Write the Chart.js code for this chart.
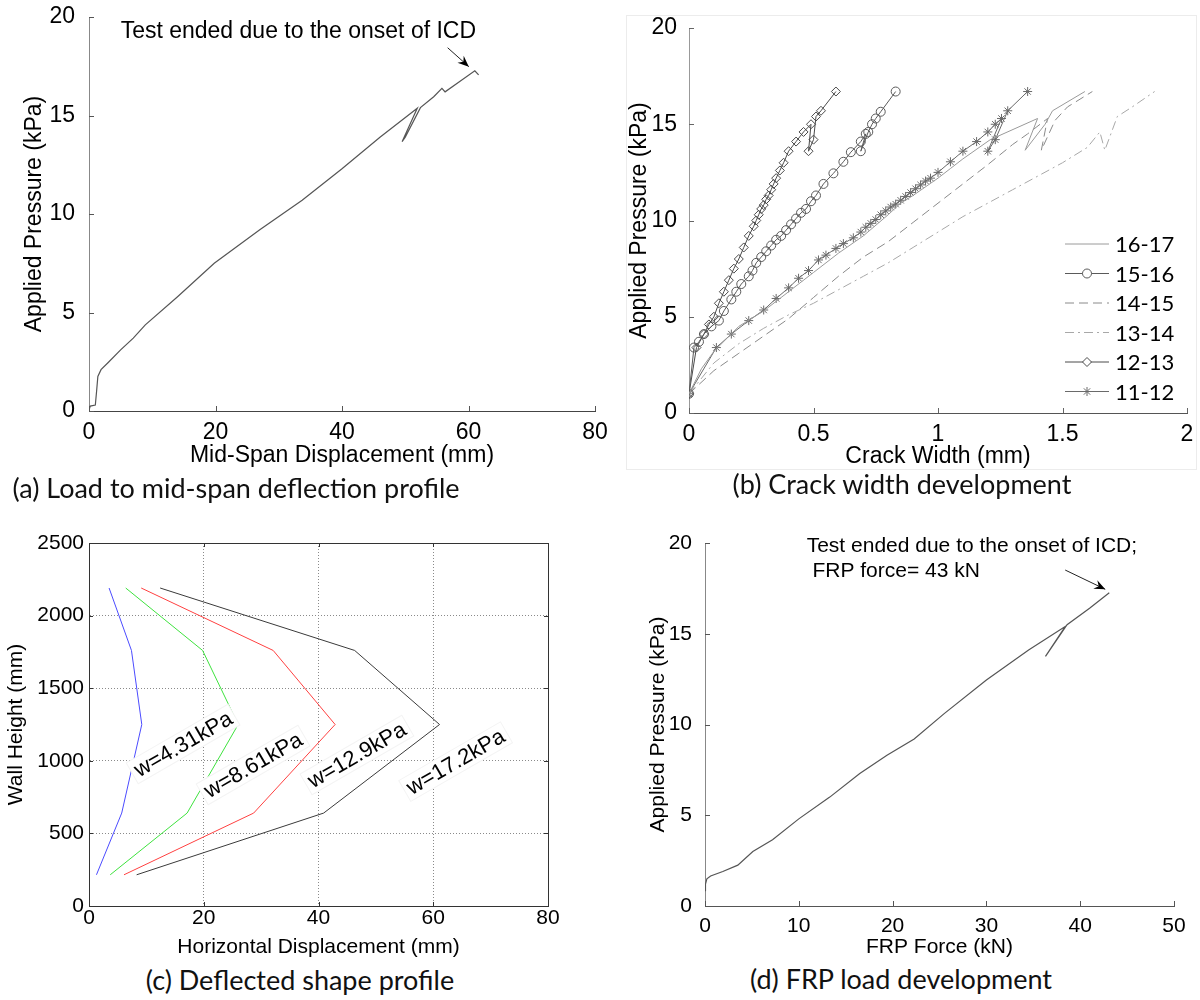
<!DOCTYPE html>
<html>
<head>
<meta charset="utf-8">
<title>Wall test results</title>
<script src="https://cdn.jsdelivr.net/npm/chart.js@4.4.1/dist/chart.umd.min.js"></script>
<style>
  body { margin: 0; background: #fff; }
  #page { position: relative; width: 1200px; height: 1000px; overflow: hidden; }
  .panel { position: absolute; }
  .caption { position: absolute; font-family: Lato, "Open Sans", sans-serif; font-size: 27px; line-height: 27px; color: #111; white-space: nowrap; transform: translateX(-50%); }
  #frameB { position: absolute; left: 626px; top: 15px; width: 569px; height: 453px; border: 1px solid #ececec; }
</style>
</head>
<body>
<div id="page">
  <div id="frameB"></div>
  <canvas id="chartA" class="panel" width="615" height="470" style="left:0;top:0"></canvas>
  <canvas id="chartB" class="panel" width="600" height="470" style="left:600px;top:0"></canvas>
  <canvas id="chartC" class="panel" width="600" height="460" style="left:0;top:500px"></canvas>
  <canvas id="chartD" class="panel" width="600" height="460" style="left:600px;top:500px"></canvas>
  <div class="caption" style="left:236px;top:474px">(a) Load to mid-span deflection profile</div>
  <div class="caption" style="left:902px;top:470px">(b) Crack width development</div>
  <div class="caption" style="left:300px;top:966px">(c) Deflected shape profile</div>
  <div class="caption" style="left:901px;top:965px">(d) FRP load development</div>
</div>
<script>
const AXIS_FONT = '"Liberation Sans", Arial, sans-serif';

// (a) load vs mid-span displacement
const aDisp  = [0, 0.2, 1.0, 1.2, 1.4, 1.9, 3.0, 5.0, 7.0, 8.9, 14, 19.8, 27, 33.7, 40, 46, 51.9, 49.5, 50.0, 52.4, 54.5, 55.8, 56.3, 58.5, 61.0, 61.6];
const aPress = [0.05, 0.25, 0.3, 1.0, 1.75, 2.1, 2.45, 3.1, 3.7, 4.37, 5.8, 7.5, 9.2, 10.7, 12.3, 13.9, 15.37, 13.67, 13.9, 15.4, 15.95, 16.38, 16.2, 16.7, 17.27, 17.06];
const aXTicks = [0, 20, 40, 60, 80];
const aYTicks = [0, 5, 10, 15, 20];

// (b) crack width development, one pair of arrays per crack
const bLabels = ['16-17', '15-16', '14-15', '13-14', '12-13', '11-12'];
const b1617W = [0, 0.05, 0.1, 0.2, 0.3, 0.4, 0.5, 0.6, 0.7, 0.8, 0.85, 0.9, 1.0, 1.05, 1.1, 1.21, 1.4, 1.35, 1.43, 1.46, 1.59];
const b1617P = [1.0, 2.3, 3.2, 4.5, 5.3, 6.3, 7.3, 8.3, 9.2, 10.3, 10.9, 11.3, 12.2, 12.7, 13.2, 14.2, 15.3, 13.65, 15.0, 15.7, 16.7];
const b1516W = [0, 0.02, 0.04, 0.06, 0.09, 0.12, 0.14, 0.17, 0.19, 0.21, 0.24, 0.255, 0.27, 0.29, 0.31, 0.33, 0.35, 0.37, 0.39, 0.41, 0.43, 0.45, 0.47, 0.49, 0.51, 0.54, 0.58, 0.62, 0.65, 0.69, 0.71, 0.69, 0.72, 0.735, 0.75, 0.77, 0.83];
const b1516P = [1.0, 3.4, 3.7, 4.1, 4.5, 4.8, 5.3, 5.9, 6.3, 6.7, 7.1, 7.4, 7.8, 8.1, 8.4, 8.7, 9.0, 9.2, 9.5, 9.8, 10.1, 10.4, 10.6, 11.0, 11.3, 11.9, 12.45, 13.05, 13.55, 14.1, 14.5, 13.6, 14.6, 15.0, 15.3, 15.65, 16.7];
const b1415W = [0, 0.1, 0.2, 0.3, 0.4, 0.5, 0.6, 0.7, 0.8, 0.9, 1.0, 1.1, 1.2, 1.3, 1.36, 1.44, 1.415, 1.47, 1.52, 1.62];
const b1415P = [1.0, 2.2, 3.1, 4.0, 4.9, 6.0, 7.1, 8.1, 8.9, 9.9, 10.9, 11.9, 12.9, 13.95, 14.5, 15.3, 13.65, 15.2, 15.9, 16.7];
const b1314W = [0, 0.1, 0.2, 0.3, 0.4, 0.5, 0.6, 0.7, 0.8, 0.9, 1.0, 1.1, 1.2, 1.3, 1.4, 1.5, 1.6, 1.65, 1.67, 1.72, 1.78, 1.87];
const b1314P = [1.0, 2.6, 3.6, 4.4, 5.1, 5.7, 6.4, 7.1, 7.8, 8.6, 9.4, 10.2, 10.9, 11.6, 12.3, 13.0, 13.8, 14.6, 13.65, 15.4, 15.9, 16.7];
const b1213W = [0, 0.03, 0.06, 0.08, 0.1, 0.12, 0.14, 0.16, 0.18, 0.2, 0.22, 0.24, 0.26, 0.27, 0.28, 0.29, 0.3, 0.31, 0.32, 0.33, 0.34, 0.35, 0.365, 0.38, 0.4, 0.43, 0.46, 0.49, 0.48, 0.5, 0.51, 0.53, 0.59];
const b1213P = [1.0, 3.4, 4.1, 4.6, 5.0, 5.7, 6.3, 6.9, 7.5, 8.0, 8.6, 9.2, 9.7, 10.0, 10.3, 10.6, 10.8, 11.1, 11.3, 11.6, 11.9, 12.2, 12.6, 13.0, 13.6, 14.1, 14.6, 15.0, 13.6, 14.2, 15.4, 15.7, 16.7];
const b1112W = [0, 0.11, 0.17, 0.24, 0.3, 0.35, 0.4, 0.44, 0.48, 0.52, 0.55, 0.59, 0.62, 0.66, 0.69, 0.71, 0.73, 0.75, 0.77, 0.79, 0.81, 0.83, 0.85, 0.87, 0.89, 0.91, 0.93, 0.95, 0.97, 1.0, 1.05, 1.1, 1.155, 1.2, 1.23, 1.255, 1.2, 1.23, 1.28, 1.36];
const b1112P = [1.0, 3.4, 4.1, 4.8, 5.35, 5.95, 6.5, 7.0, 7.4, 7.95, 8.2, 8.55, 8.8, 9.1, 9.4, 9.65, 9.85, 10.05, 10.3, 10.5, 10.7, 10.85, 11.05, 11.25, 11.45, 11.65, 11.85, 12.05, 12.2, 12.5, 13.05, 13.6, 14.1, 14.6, 15.0, 15.3, 13.6, 14.2, 15.7, 16.7];
const bXTicks = [0, 0.5, 1, 1.5, 2];
const bYTicks = [0, 5, 10, 15, 20];

// (c) deflected shape at four load levels
const cHeight = [2190, 1760, 1250, 640, 215];
const cLoads = ['w=4.31kPa', 'w=8.61kPa', 'w=12.9kPa', 'w=17.2kPa'];
const cDisp431 = [3.5, 7.4, 9.2, 5.7, 1.3];
const cDisp861 = [6.4, 19.8, 26.0, 17.1, 3.7];
const cDisp129 = [9.1, 32.1, 42.9, 28.7, 6.1];
const cDisp172 = [12.4, 46.3, 61.1, 40.9, 8.3];
const cXTicks = [0, 20, 40, 60, 80];
const cYTicks = [0, 500, 1000, 1500, 2000, 2500];

// (d) load vs FRP force
const dForce = [0, 0.05, 0.2, 0.6, 1.9, 3.5, 5.1, 7.2, 10.0, 13.3, 16.5, 19.4, 22.3, 25.5, 30.0, 34.5, 38.4, 36.3, 38.6, 41.0, 43.1];
const dPress = [0.85, 1.2, 1.5, 1.65, 1.9, 2.25, 3.0, 3.65, 4.8, 6.0, 7.3, 8.3, 9.2, 10.6, 12.45, 14.1, 15.4, 13.75, 15.5, 16.4, 17.26];
const dXTicks = [0, 10, 20, 30, 40, 50];
const dYTicks = [0, 5, 10, 15, 20];

function pts(xs, ys) {
    return xs.map(function(x, i) { return {x: x, y: ys[i]}; });
}

// small tick marks pointing into the plot, optional closed box
const edgeTicks = {
    id: 'edgeTicks',
    afterDraw(chart, args, o) {
        const ctx = chart.ctx, a = chart.chartArea, sx = chart.scales.x, sy = chart.scales.y;
        const len = o.len || 5;
        ctx.save();
        ctx.strokeStyle = o.color || '#333';
        ctx.lineWidth = 1;
        ctx.beginPath();
        sx.ticks.forEach(function(t) {
            const px = Math.round(sx.getPixelForValue(t.value)) + 0.5;
            ctx.moveTo(px, a.bottom); ctx.lineTo(px, a.bottom - len);
            if (o.box) { ctx.moveTo(px, a.top); ctx.lineTo(px, a.top + len); }
        });
        sy.ticks.forEach(function(t) {
            const py = Math.round(sy.getPixelForValue(t.value)) + 0.5;
            ctx.moveTo(a.left, py); ctx.lineTo(a.left + len, py);
            if (o.box) { ctx.moveTo(a.right, py); ctx.lineTo(a.right - len, py); }
        });
        ctx.stroke();
        if (o.box) ctx.strokeRect(Math.round(a.left) + 0.5, Math.round(a.top) + 0.5, Math.round(a.right - a.left), Math.round(a.bottom - a.top));
        ctx.restore();
    }
};

// text + arrow annotation
const notes = {
    id: 'notes',
    afterDatasetsDraw(chart, args, o) {
        if (!o.lines) return;
        const ctx = chart.ctx, sx = chart.scales.x, sy = chart.scales.y;
        ctx.save();
        ctx.font = o.font;
        ctx.fillStyle = '#000';
        ctx.textAlign = 'left';
        ctx.textBaseline = 'middle';
        o.lines.forEach(function(l) {
            ctx.fillText(l.text, sx.getPixelForValue(l.x), sy.getPixelForValue(l.y));
        });
        const x1 = sx.getPixelForValue(o.from[0]), y1 = sy.getPixelForValue(o.from[1]);
        const x2 = sx.getPixelForValue(o.to[0]), y2 = sy.getPixelForValue(o.to[1]);
        ctx.strokeStyle = '#222';
        ctx.lineWidth = 1;
        ctx.beginPath(); ctx.moveTo(x1, y1); ctx.lineTo(x2, y2); ctx.stroke();
        const ang = Math.atan2(y2 - y1, x2 - x1), hl = 12;
        ctx.beginPath();
        ctx.moveTo(x2, y2);
        ctx.lineTo(x2 - hl * Math.cos(ang - 0.4), y2 - hl * Math.sin(ang - 0.4));
        ctx.lineTo(x2 - hl * 0.6 * Math.cos(ang), y2 - hl * 0.6 * Math.sin(ang));
        ctx.lineTo(x2 - hl * Math.cos(ang + 0.4), y2 - hl * Math.sin(ang + 0.4));
        ctx.closePath();
        ctx.fill();
        ctx.restore();
    }
};

// rotated curve labels on white boxes
const curveLabels = {
    id: 'curveLabels',
    afterDatasetsDraw(chart, args, o) {
        if (!o.items) return;
        const ctx = chart.ctx, sx = chart.scales.x, sy = chart.scales.y;
        ctx.save();
        ctx.font = o.font;
        o.items.forEach(function(it) {
            ctx.save();
            ctx.translate(sx.getPixelForValue(it.x), sy.getPixelForValue(it.y));
            ctx.rotate(o.angle * Math.PI / 180);
            const w = ctx.measureText(it.text).width;
            ctx.fillStyle = '#fff';
            ctx.fillRect(-w / 2 - 4, -12, w + 8, 24);
            ctx.strokeStyle = '#f4f4f4';
            ctx.strokeRect(-w / 2 - 4, -12, w + 8, 24);
            ctx.fillStyle = '#000';
            ctx.textAlign = 'center';
            ctx.textBaseline = 'middle';
            ctx.fillText(it.text, 0, 1);
            ctx.restore();
        });
        ctx.restore();
    }
};

// legend inside panel (b)
const crackLegend = {
    id: 'crackLegend',
    afterDraw(chart, args, o) {
        const ctx = chart.ctx;
        ctx.save();
        chart.data.datasets.forEach(function(ds, i) {
            const y = o.top + i * o.step;
            ctx.strokeStyle = ds.borderColor;
            ctx.lineWidth = 1;
            ctx.setLineDash(ds.borderDash || []);
            ctx.beginPath(); ctx.moveTo(o.x0, y); ctx.lineTo(o.x1, y); ctx.stroke();
            ctx.setLineDash([]);
            if (ds.pointRadius > 0) {
                ctx.fillStyle = '#fff';
                Chart.helpers.drawPoint(ctx, {pointStyle: ds.pointStyle, radius: ds.pointRadius, borderWidth: 1, rotation: 0}, (o.x0 + o.x1) / 2, y);
            }
            ctx.fillStyle = '#000';
            ctx.font = o.font;
            ctx.textBaseline = 'middle';
            ctx.fillText(ds.label, o.x1 + 6, y + 1);
        });
        ctx.restore();
    }
};

function scaleOpts(o) {
    return {
        type: 'linear',
        min: o.ticks[0],
        max: o.ticks[o.ticks.length - 1],
        afterBuildTicks: function(s) { s.ticks = o.ticks.map(function(v) { return {value: v}; }); },
        afterFit: function(s) {
            if (s.isHorizontal()) s.height = o.size; else s.width = o.size;
            s.paddingLeft = 0; s.paddingRight = 0; s.paddingTop = 0; s.paddingBottom = 0;
        },
        ticks: {
            color: '#000', font: {family: AXIS_FONT, size: o.font}, padding: o.tickPad, maxRotation: 0, autoSkip: false,
            callback: function(v) { return String(v); }
        },
        grid: o.grid || {display: false},
        border: o.border || {color: '#555'},
        title: {display: true, text: o.title, color: '#000', font: {family: AXIS_FONT, size: o.font}, padding: o.titlePad}
    };
}

function baseOptions(pad, xScale, yScale, extra) {
    const plugins = {legend: {display: false}, tooltip: {enabled: false}};
    Object.assign(plugins, extra);
    return {
        responsive: false,
        animation: false,
        events: [],
        layout: {padding: pad},
        scales: {x: xScale, y: yScale},
        plugins: plugins
    };
}

// Panel (a)
new Chart(document.getElementById('chartA'), {
    type: 'scatter',
    data: {datasets: [{data: pts(aDisp, aPress), showLine: true, borderColor: '#555', borderWidth: 1.2, pointRadius: 0}]},
    options: baseOptions({left: 0, top: 17, right: 20, bottom: 0},
        scaleOpts({ticks: aXTicks, size: 59, font: 23, tickPad: 0, title: 'Mid-Span Displacement (mm)', titlePad: {top: 0, bottom: 1}, border: {color: '#444'}}),
        scaleOpts({ticks: aYTicks, size: 89, font: 23, tickPad: 6, title: 'Applied Pressure (kPa)', titlePad: {top: 21, bottom: 0}, border: {color: '#888'}}),
        {
            edgeTicks: {len: 5, color: '#555'},
            notes: {font: '23px ' + AXIS_FONT, lines: [{text: 'Test ended due to the onset of ICD', x: 5.0, y: 19.25}], from: [56.7, 18.44], to: [60.05, 17.48]}
        }),
    plugins: [edgeTicks, notes]
});

// Panel (b)
const bData = [[b1617W, b1617P], [b1516W, b1516P], [b1415W, b1415P], [b1314W, b1314P], [b1213W, b1213P], [b1112W, b1112P]];
const bStyles = [
    {borderColor: '#9a9a9a', borderDash: [], pointStyle: 'circle', pointRadius: 0},
    {borderColor: '#5a5a5a', borderDash: [], pointStyle: 'circle', pointRadius: 4.5},
    {borderColor: '#8a8a8a', borderDash: [9, 5], pointStyle: 'circle', pointRadius: 0},
    {borderColor: '#a8a8a8', borderDash: [9, 4, 2, 4], pointStyle: 'circle', pointRadius: 0},
    {borderColor: '#4a4a4a', borderDash: [], pointStyle: 'rectRot', pointRadius: 4.5},
    {borderColor: '#6a6a6a', borderDash: [], pointStyle: 'star', pointRadius: 4.5}
];
new Chart(document.getElementById('chartB'), {
    type: 'scatter',
    data: {
        datasets: bLabels.map(function(name, i) {
            const st = bStyles[i];
            return {
                label: name,
                data: pts(bData[i][0], bData[i][1]),
                showLine: true,
                borderColor: st.borderColor,
                borderDash: st.borderDash,
                borderWidth: 1,
                pointStyle: st.pointStyle,
                pointRadius: st.pointRadius,
                pointBorderColor: st.borderColor,
                pointBackgroundColor: 'rgba(255,255,255,0)',
                pointBorderWidth: 1
            };
        })
    },
    options: baseOptions({left: 0, top: 28, right: 13, bottom: 0},
        scaleOpts({ticks: bXTicks, size: 57, font: 23, tickPad: 0, title: 'Crack Width (mm)', titlePad: {top: 0, bottom: 0}, border: {color: '#555'}}),
        scaleOpts({ticks: bYTicks, size: 89, font: 23, tickPad: 4, title: 'Applied Pressure (kPa)', titlePad: {top: 26, bottom: 0}, border: {color: '#999'}}),
        {
            edgeTicks: {len: 5, color: '#666'},
            crackLegend: {x0: 465, x1: 509, top: 244, step: 29.5, font: '22px Lato, "Open Sans", sans-serif'}
        }),
    plugins: [edgeTicks, crackLegend]
});

// Panel (c)
const cSeries = [cDisp431, cDisp861, cDisp129, cDisp172];
const cColors = ['#4b4bff', '#3ee23e', '#ff4040', '#3a3a3a'];
const cLabelX = [16.4, 28.6, 46.7, 63.9];
const cLabelY = [1116, 971, 1040, 994];
new Chart(document.getElementById('chartC'), {
    type: 'scatter',
    data: {
        datasets: cSeries.map(function(s, i) {
            return {label: cLoads[i], data: pts(s, cHeight), showLine: true, borderColor: cColors[i], borderWidth: 1, pointRadius: 0};
        })
    },
    options: baseOptions({left: 0, top: 43, right: 52, bottom: 0},
        scaleOpts({ticks: cXTicks, size: 54, font: 21, tickPad: 0, title: 'Horizontal Displacement (mm)', titlePad: {top: 0, bottom: 0},
            grid: {display: true, drawTicks: false, color: '#8a8a8a'}, border: {color: '#333', dash: [1, 2]}}),
        scaleOpts({ticks: cYTicks, size: 89, font: 21, tickPad: 5, title: 'Wall Height (mm)', titlePad: {top: 4, bottom: 0},
            grid: {display: true, drawTicks: false, color: '#8a8a8a'}, border: {color: '#333', dash: [1, 2]}}),
        {
            edgeTicks: {len: 4, color: '#333', box: true},
            curveLabels: {font: '22px ' + AXIS_FONT, angle: -30, items: cLoads.map(function(t, i) { return {text: t, x: cLabelX[i], y: cLabelY[i]}; })}
        }),
    plugins: [edgeTicks, curveLabels]
});

// Panel (d)
new Chart(document.getElementById('chartD'), {
    type: 'scatter',
    data: {datasets: [{data: pts(dForce, dPress), showLine: true, borderColor: '#555', borderWidth: 1.2, pointRadius: 0}]},
    options: baseOptions({left: 0, top: 43, right: 26, bottom: 0},
        scaleOpts({ticks: dXTicks, size: 54, font: 21, tickPad: 0, title: 'FRP Force (kN)', titlePad: {top: 0, bottom: 0}, border: {color: '#555'}}),
        scaleOpts({ticks: dYTicks, size: 105, font: 21, tickPad: 5, title: 'Applied Pressure (kPa)', titlePad: {top: 46, bottom: 0}, border: {color: '#888'}}),
        {
            edgeTicks: {len: 5, color: '#555'},
            notes: {font: '21px ' + AXIS_FONT,
                lines: [{text: 'Test ended due to the onset of ICD;', x: 10.84, y: 19.8}, {text: 'FRP force= 43 kN', x: 11.45, y: 18.42}],
                from: [38.4, 18.51], to: [42.67, 17.45]}
        }),
    plugins: [edgeTicks, notes]
});
</script>
</body>
</html>
